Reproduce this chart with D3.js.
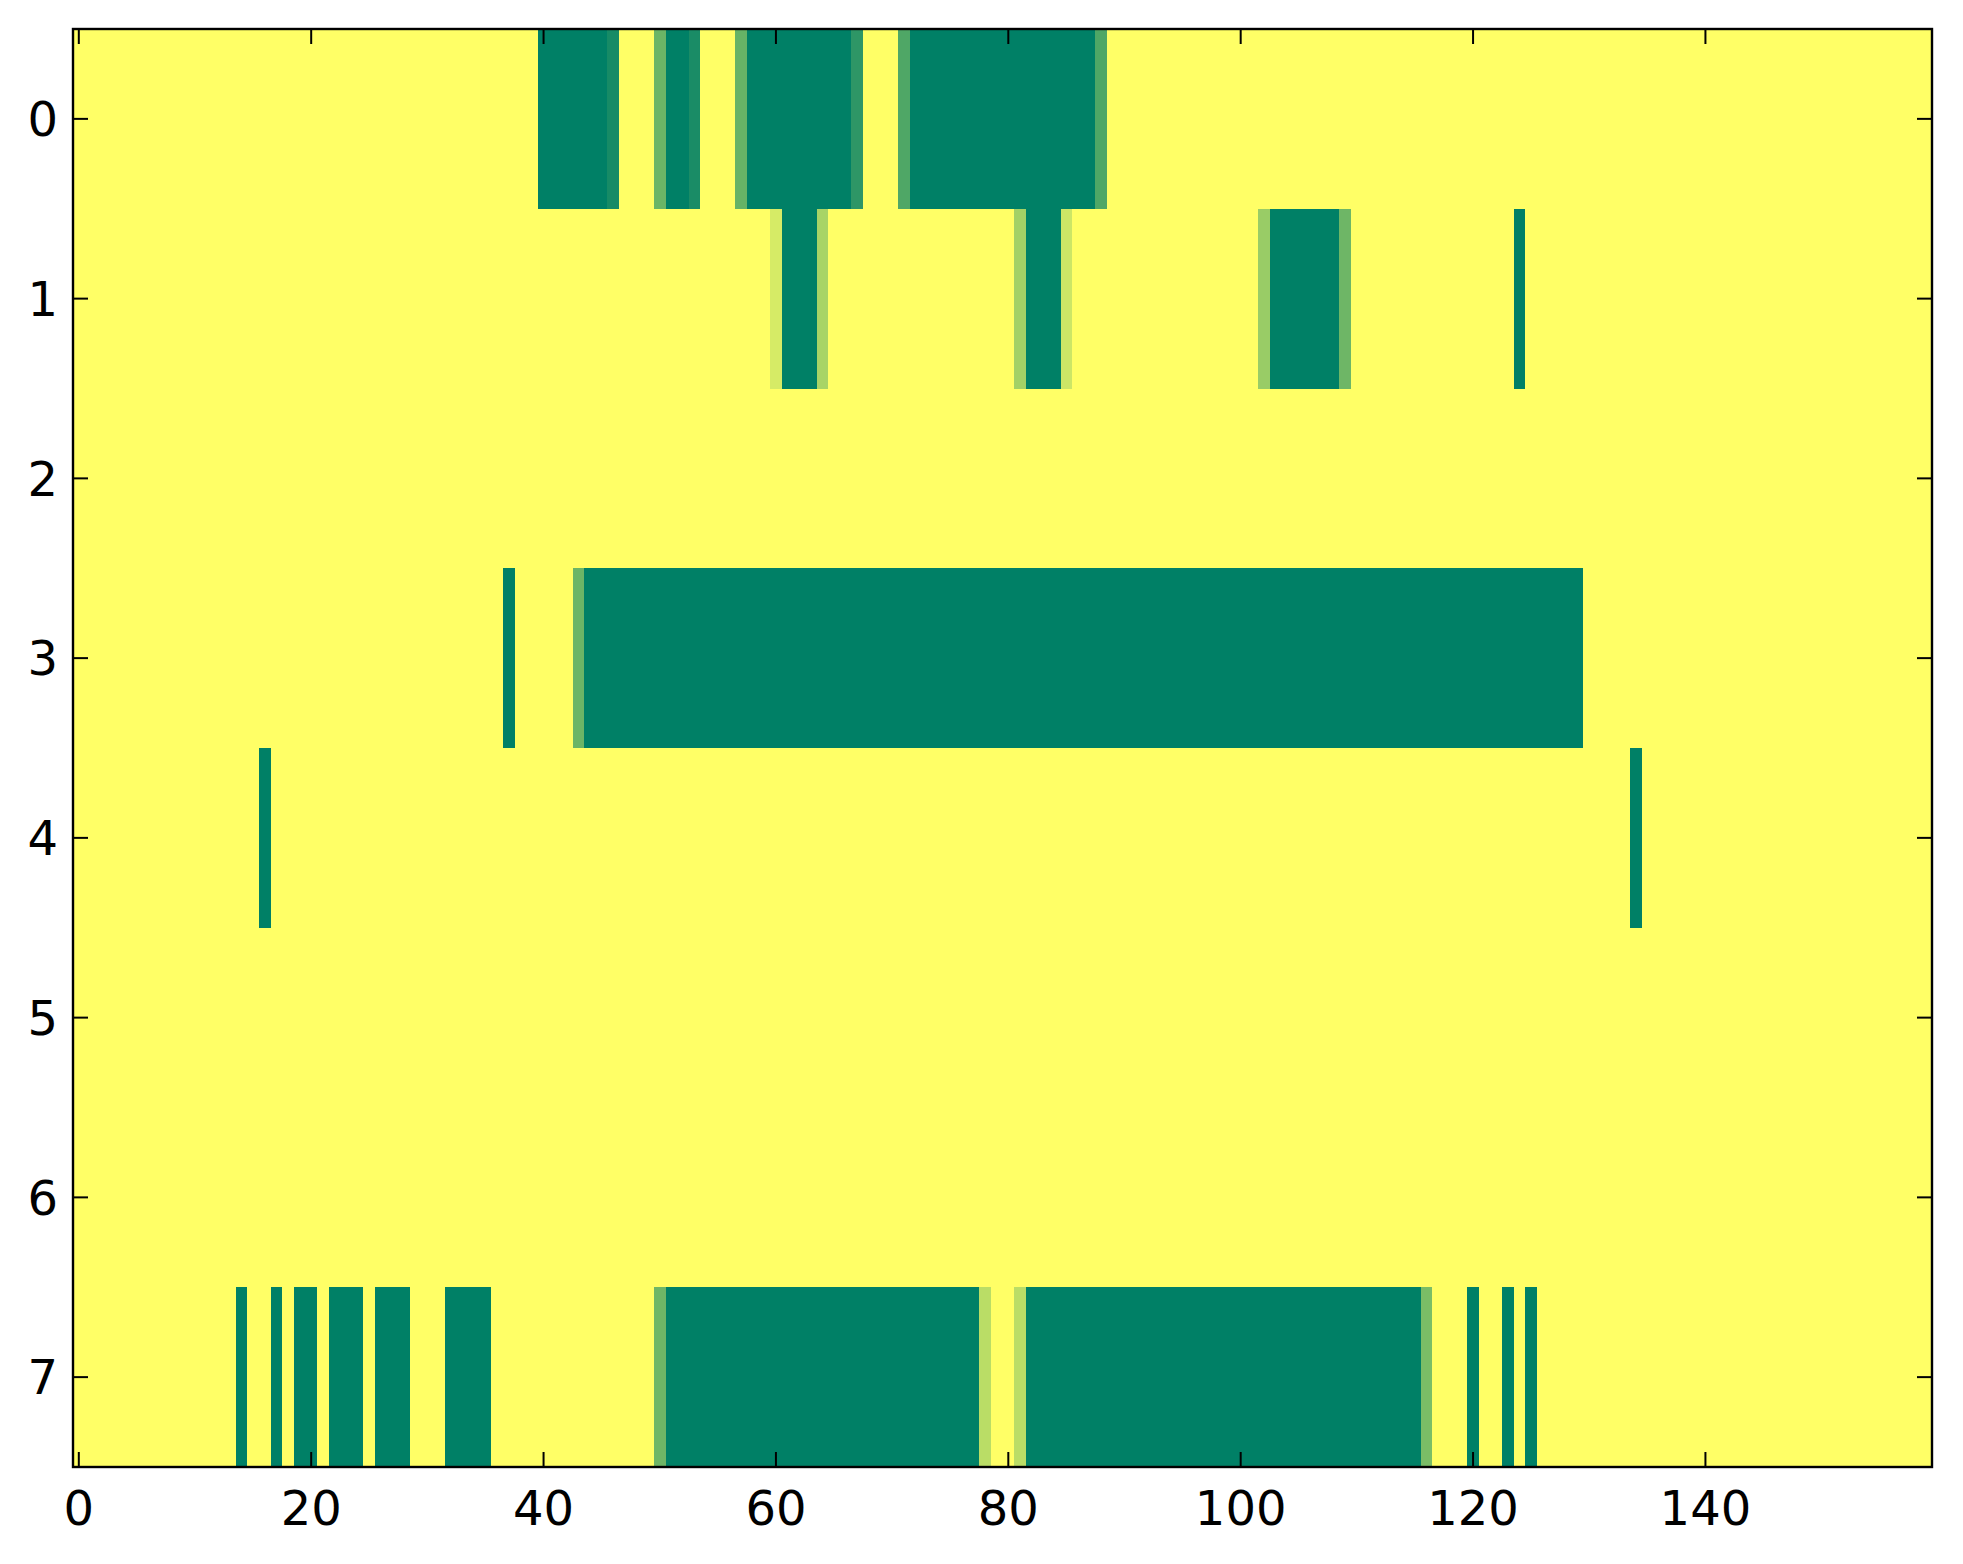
<!DOCTYPE html>
<html>
<head>
<meta charset="utf-8">
<script src="https://cdn.jsdelivr.net/npm/d3@7"></script>
<style>
  html, body { margin: 0; padding: 0; background: #ffffff; }
  svg { display: block; }
</style>
</head>
<body>
<svg id="chart" width="1963" height="1564"></svg>
<script>
// ---- Data ----
// Grid: 8 rows x 160 columns; every cell is 1 (yellow) unless listed in a run.
// Each run: [firstColumn, lastColumn, value]
const nRows = 8;
const nCols = 160;
const rowLabels = [0, 1, 2, 3, 4, 5, 6, 7];
const xTickValues = [0, 20, 40, 60, 80, 100, 120, 140];

const row0 = [[40,45,0],[46,46,0.09],[50,50,0.42],[51,52,0],[53,53,0.1],[57,57,0.4],
              [58,66,0],[67,67,0.18],[71,71,0.31],[72,87,0],[88,88,0.31]];
const row1 = [[60,60,0.84],[61,63,0],[64,64,0.66],[81,81,0.64],[82,84,0],[85,85,0.8],
              [102,102,0.6],[103,108,0],[109,109,0.43],[124,124,0]];
const row2 = [];
const row3 = [[37,37,0],[43,43,0.42],[44,129,0]];
const row4 = [[16,16,0],[134,134,0]];
const row5 = [];
const row6 = [];
const row7 = [[14,14,0],[17,17,0],[19,20,0],[22,24,0],[26,28,0],[32,35,0],[50,50,0.43],
              [51,77,0],[78,78,0.73],[81,81,0.73],[82,115,0],[116,116,0.48],
              [120,120,0],[123,123,0],[125,125,0]];
const rowRuns = [row0, row1, row2, row3, row4, row5, row6, row7];

// Build the matrix
const cells = [];
rowRuns.forEach((runs, r) => {
  const vals = new Array(nCols).fill(1);
  runs.forEach(([a, b, v]) => { for (let c = a; c <= b; c++) vals[c] = v; });
  vals.forEach((v, c) => cells.push({ r, c, v }));
});

// ---- Layout ----
const L = 73, R = 1932, T = 29, B = 1467;
const svg = d3.select("#chart");

const x = d3.scaleLinear().domain([-0.5, nCols - 0.5]).range([L, R]);
const y = d3.scaleLinear().domain([-0.5, nRows - 0.5]).range([T, B]);

// matplotlib "summer" colormap
const summer = v => d3.rgb(255 * v, 255 * (0.5 + v / 2), 255 * 0.4).toString();

svg.append("rect").attr("width", 1963).attr("height", 1564).attr("fill", "#fff");

svg.append("g")
  .attr("shape-rendering", "crispEdges")
  .selectAll("rect")
  .data(cells)
  .join("rect")
  .attr("x", d => x(d.c - 0.5))
  .attr("y", d => y(d.r - 0.5))
  .attr("width", d => x(d.c + 0.5) - x(d.c - 0.5) + 0.5)
  .attr("height", d => y(d.r + 0.5) - y(d.r - 0.5) + 0.5)
  .attr("fill", d => summer(d.v));

// ---- Ticks (inward, on all four sides) ----
const tickLen = 15;
const tg = svg.append("g").attr("stroke", "#000").attr("stroke-width", 2);
xTickValues.forEach(t => {
  tg.append("line").attr("x1", x(t)).attr("x2", x(t)).attr("y1", B).attr("y2", B - tickLen);
  tg.append("line").attr("x1", x(t)).attr("x2", x(t)).attr("y1", T).attr("y2", T + tickLen);
});
rowLabels.forEach(t => {
  tg.append("line").attr("x1", L).attr("x2", L + tickLen).attr("y1", y(t)).attr("y2", y(t));
  tg.append("line").attr("x1", R).attr("x2", R - tickLen).attr("y1", y(t)).attr("y2", y(t));
});

// Frame
svg.append("rect")
  .attr("x", L).attr("y", T).attr("width", R - L).attr("height", B - T)
  .attr("fill", "none").attr("stroke", "#000").attr("stroke-width", 2.4);

// ---- Tick labels ----
const font = "'DejaVu Sans', sans-serif";
svg.append("g").selectAll("text").data(xTickValues).join("text")
  .attr("x", d => x(d)).attr("y", 1525)
  .attr("text-anchor", "middle")
  .attr("font-family", font).attr("font-size", 48)
  .text(d => d);

svg.append("g").selectAll("text").data(rowLabels).join("text")
  .attr("x", 58).attr("y", d => y(d)).attr("dy", "0.36em")
  .attr("text-anchor", "end")
  .attr("font-family", font).attr("font-size", 48)
  .text(d => d);
</script>
</body>
</html>
